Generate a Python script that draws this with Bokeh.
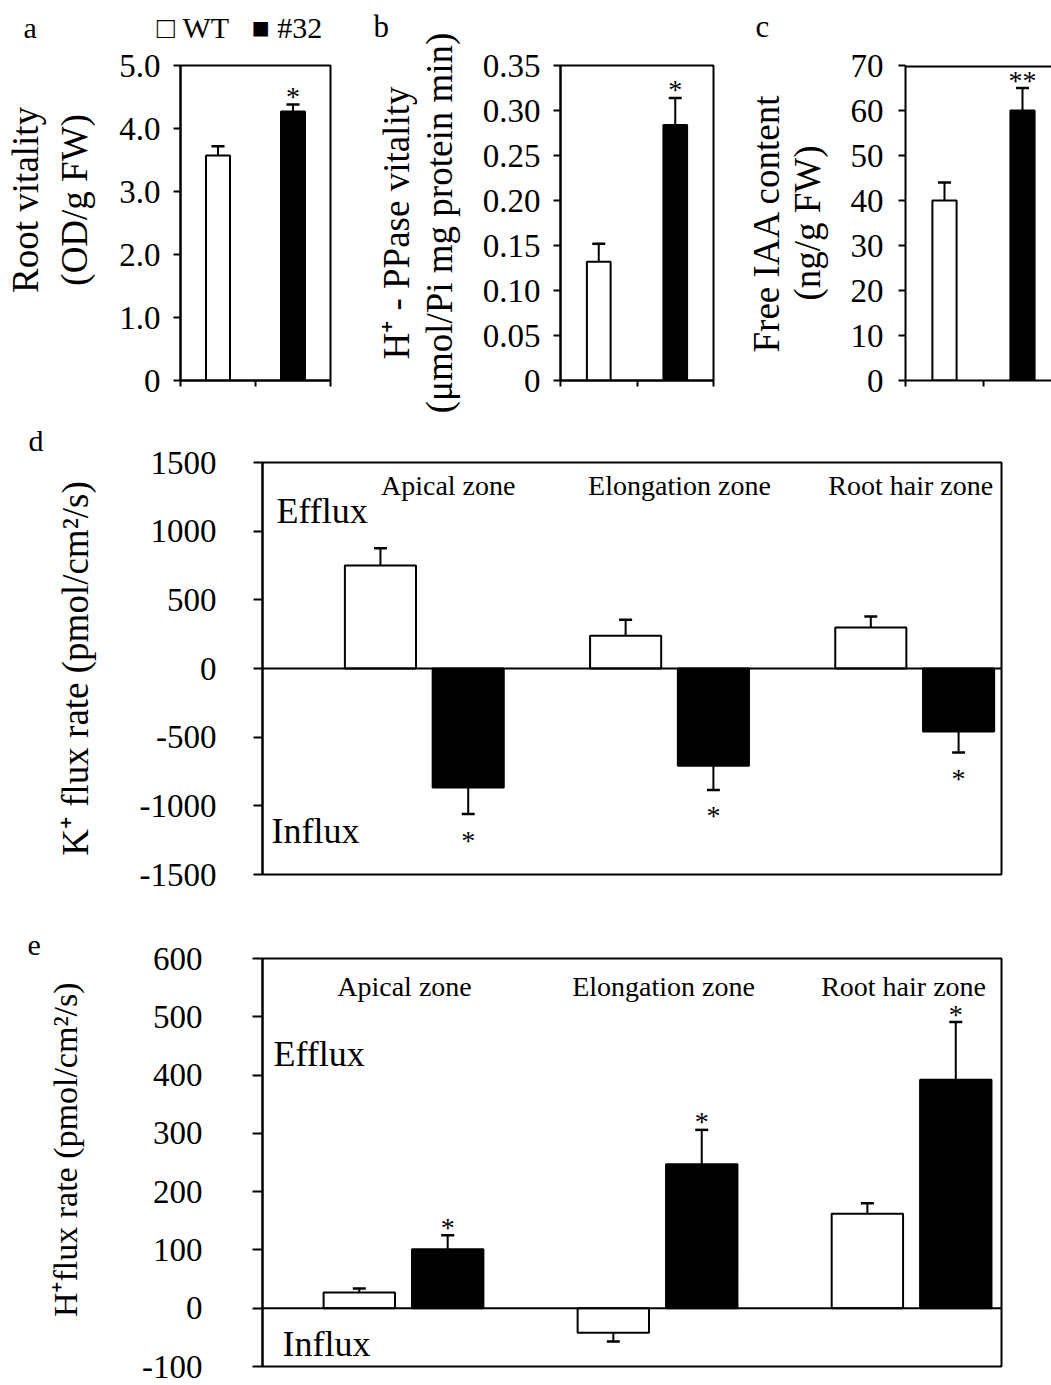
from bokeh.plotting import figure
from bokeh.models import ColumnDataSource, FixedTicker, Range1d, Span, Label, Title
from bokeh.layouts import column, row
from bokeh.embed import file_html
from bokeh.resources import INLINE
from bokeh.core.properties import value

FONT = "Liberation Serif"
NB = "\u00a0"

# ---------------- data ----------------
genotypes = ["WT", "#32"]

root_vitality = [3.57, 4.27]
root_vitality_err = [0.15, 0.11]
root_vitality_sig = ["", "*"]

ppase = [0.132, 0.284]
ppase_err = [0.020, 0.030]
ppase_sig = ["", "*"]

iaa = [40, 60]
iaa_err = [4, 5]
iaa_sig = ["", "**"]

zones = ["Apical zone", "Elongation zone", "Root hair zone"]
k_wt = [750, 238, 299]
k_wt_err = [125, 117, 80]
k_m32 = [-867, -709, -459]
k_m32_err = [193, 175, 153]
k_m32_sig = ["*", "*", "*"]

h_wt = [27, -42, 162]
h_wt_err = [7, 15, 18]
h_m32 = [101, 247, 392]
h_m32_err = [24, 59, 99]
h_m32_sig = ["*", "*", "*"]

a_ticks = [0, 1, 2, 3, 4, 5]
a_tick_labels = ["0", "1.0", "2.0", "3.0", "4.0", "5.0"]
b_ticks = [0, 0.05, 0.1, 0.15, 0.2, 0.25, 0.3, 0.35]
b_tick_labels = ["0", "0.05", "0.10", "0.15", "0.20", "0.25", "0.30", "0.35"]
c_ticks = [0, 10, 20, 30, 40, 50, 60, 70]
c_tick_labels = ["0", "10", "20", "30", "40", "50", "60", "70"]
d_ticks = [-1500, -1000, -500, 0, 500, 1000, 1500]
d_tick_labels = ["-1500", "-1000", "-500", "0", "500", "1000", "1500"]
e_ticks = [-100, 0, 100, 200, 300, 400, 500, 600]
e_tick_labels = ["-100", "0", "100", "200", "300", "400", "500", "600"]

# ---------------- helpers ----------------
TICK_FS = "33px"


class Geo:
    """page-pixel frame geometry -> data coordinate mapping"""
    def __init__(self, L, R, T, B, xr, yr):
        self.L, self.R, self.T, self.B, self.xr, self.yr = L, R, T, B, xr, yr

    def x(self, px):
        return self.xr[0] + (px - self.L) / (self.R - self.L) * (self.xr[1] - self.xr[0])

    def y(self, py):
        return self.yr[0] + (self.B - py) / (self.B - self.T) * (self.yr[1] - self.yr[0])

    def dx(self, n):
        return n / (self.R - self.L) * (self.xr[1] - self.xr[0])


def make_fig(geo, x0, y0, width, height, x_axis=True):
    left = geo.L - x0
    right = x0 + width - geo.R
    top = geo.T - y0
    bottom = y0 + height - geo.B
    p = figure(width=width, height=height,
               x_range=Range1d(*geo.xr), y_range=Range1d(*geo.yr),
               output_backend="svg", toolbar_location=None,
               min_border_left=left, min_border_right=right,
               min_border_top=top, min_border_bottom=bottom,
               x_axis_location="below" if x_axis else None)
    p.grid.visible = False
    p.outline_line_color = "black"
    p.outline_line_width = 2
    p.background_fill_color = "white"
    p.border_fill_color = "white"
    return p


def style_y(p, ticks, labels, label, tick_out, lab_standoff, axis_standoff,
            line_h=1.2, label_fs="37px"):
    ax = p.yaxis[0]
    ax.ticker = FixedTicker(ticks=ticks)
    ax.major_label_overrides = {t: l for t, l in zip(ticks, labels)}
    ax.major_label_text_font = FONT
    ax.major_label_text_font_size = TICK_FS
    ax.major_label_text_color = "black"
    ax.major_tick_out = tick_out
    ax.major_tick_in = 0
    ax.minor_tick_line_color = None
    ax.axis_line_width = 2
    ax.major_tick_line_width = 2
    ax.major_label_standoff = lab_standoff
    ax.axis_label = label
    ax.axis_label_text_font = FONT
    ax.axis_label_text_font_size = label_fs
    ax.axis_label_text_font_style = "normal"
    ax.axis_label_text_color = "black"
    ax.axis_label_text_line_height = line_h
    ax.axis_label_standoff = axis_standoff


def style_x_cat(p, n):
    ax = p.xaxis[0]
    ticks = list(range(n + 1))
    ax.ticker = FixedTicker(ticks=ticks)
    ax.major_label_overrides = {t: "" for t in ticks}
    ax.major_label_text_font_size = "1px"
    ax.major_tick_out = 6
    ax.major_tick_in = 0
    ax.minor_tick_line_color = None
    ax.axis_line_width = 2
    ax.major_tick_line_width = 2


def bars_with_err(p, geo, xs, vals, errs, fill, width, sig=None, star_fs="28px"):
    ends = [v + e if v >= 0 else v - e for v, e in zip(vals, errs)]
    half_cap = geo.dx(6.5)
    src = ColumnDataSource(dict(
        x=xs, v=vals, end=ends,
        cx0=[x - half_cap for x in xs], cx1=[x + half_cap for x in xs],
        sig=sig if sig else [""] * len(xs),
        off=[-8 if v >= 0 else 26 for v in vals],
    ))
    p.vbar(x="x", top="v", bottom=0, width=width, source=src,
           fill_color=fill, line_color="black", line_width=2)
    p.segment(x0="x", y0="v", x1="x", y1="end", source=src,
              line_color="black", line_width=2)
    p.segment(x0="cx0", y0="end", x1="cx1", y1="end", source=src,
              line_color="black", line_width=2.5)
    if sig:
        p.text(x="x", y="end", text="sig", source=src, y_offset="off",
               text_align="center", text_baseline="middle",
               text_font=value(FONT), text_font_size=star_fs, text_color="black")


def label(p, x, y, text, size, align="left"):
    p.add_layout(Label(x=x, y=y, text=text, text_font=FONT, text_font_size=size,
                       text_color="black", text_align=align,
                       text_baseline="alphabetic"))


def panel_title(p, geo, text, page_x, size, standoff, line_h=1.0):
    p.add_layout(Title(text=text, align="left", offset=page_x - geo.L,
                       text_font=FONT, text_font_size=size, text_font_style="normal",
                       text_color="black", standoff=standoff, vertical_align="bottom",
                       text_line_height=line_h),
                 "above")


def zone_labels(p, geo, centers, nudges_px, page_baseline):
    p.text(x=[c + geo.dx(n) for c, n in zip(centers, nudges_px)],
           y=[geo.y(page_baseline)] * len(centers), text=zones,
           text_align="center", text_baseline="alphabetic",
           text_font=value(FONT), text_font_size="28px", text_color="black")


ROW1_H = 413

# ---------------- panel a ----------------
ga = Geo(180, 330, 65, 380, (0, 2), (0, 5))
pa = make_fig(ga, 0, 0, 345, ROW1_H)
style_y(pa, a_ticks, a_tick_labels,
        NB * 5 + "Root vitality\n" + NB * 5 + "(OD/g FW)", 7, 13, 21, 1.2)
style_x_cat(pa, 2)
xs2 = [i + 0.5 for i in range(len(genotypes))]
bars_with_err(pa, ga, [xs2[0]], [root_vitality[0]], [root_vitality_err[0]], "white", 0.32)
bars_with_err(pa, ga, [xs2[1]], [root_vitality[1]], [root_vitality_err[1]], "black", 0.32,
              sig=[root_vitality_sig[1]])
legend_text = ("a" + NB * 16 + "\u25a1" + NB + genotypes[0] + NB * 3 +
               "\u25a0" + NB + genotypes[1])
panel_title(pa, ga, legend_text + "\n" + NB, 23, "30px", 0, 0.65)

# ---------------- panel b ----------------
gb = Geo(560, 713, 65, 380, (0, 2), (0, 0.35))
pb = make_fig(gb, 345, 0, 383, ROW1_H)
style_y(pb, b_ticks, b_tick_labels, "H\u207a - PPase vitality\n(\u03bcmol/Pi mg protein min)",
        7, 13, 20, 1.05)
style_x_cat(pb, 2)
bars_with_err(pb, gb, [xs2[0]], [ppase[0]], [ppase_err[0]], "white", 0.31)
bars_with_err(pb, gb, [xs2[1]], [ppase[1]], [ppase_err[1]], "black", 0.31, sig=[ppase_sig[1]])
panel_title(pb, gb, "b\n" + NB, 373, "31px", 0, 0.62)

# ---------------- panel c ----------------
gc = Geo(905, 1051, 65, 380, (0, 146 / 78), (0, 70))
pc = make_fig(gc, 728, 0, 323, ROW1_H)
pc.outline_line_color = None
style_y(pc, c_ticks, c_tick_labels, "Free IAA content\n(ng/g FW)", 7, 15, 20, 1.0)
style_x_cat(pc, 2)
pc.add_layout(Span(location=70, dimension="width", line_color="black", line_width=4))
bars_with_err(pc, gc, [xs2[0]], [iaa[0]], [iaa_err[0]], "white", 0.31)
bars_with_err(pc, gc, [xs2[1]], [iaa[1]], [iaa_err[1]], "black", 0.31, sig=[iaa_sig[1]])
panel_title(pc, gc, "c\n" + NB, 755, "31px", 0, 0.62)

# ---------------- panel d ----------------
gd = Geo(259, 1002, 462, 874, (-0.16, 2.854), (-1500, 1500))
pd_ = make_fig(gd, 0, ROW1_H, 1051, 502, x_axis=False)
style_y(pd_, d_ticks, d_tick_labels, "K\u207a flux rate (pmol/cm\u00b2/s)", 9, 37, 41)
pd_.add_layout(Span(location=0, dimension="width", line_color="black", line_width=2))
zx = [i + 0.5 for i in range(len(zones))]
bars_with_err(pd_, gd, [x - 0.179 for x in zx], k_wt, k_wt_err, "white", 0.29)
bars_with_err(pd_, gd, [x + 0.179 for x in zx], k_m32, k_m32_err, "black", 0.29, sig=k_m32_sig)
zone_labels(pd_, gd, zx, [24, 10, -4], 485)
label(pd_, gd.x(273), gd.y(510), "Efflux", "36px")
label(pd_, gd.x(268), gd.y(830), "Influx", "36px")
panel_title(pd_, gd, "d", 25, "30px", 12)

# ---------------- panel e ----------------
ge = Geo(262, 1001, 958, 1366, (-0.055, 2.854), (-100, 600))
pe = make_fig(ge, 0, ROW1_H + 502, 1051, 470, x_axis=False)
style_y(pe, e_ticks, e_tick_labels, NB * 3 + "H\u207aflux rate (pmol/cm\u00b2/s)",
        10, 50, 55, label_fs="34px")
pe.add_layout(Span(location=0, dimension="width", line_color="black", line_width=2))
bars_with_err(pe, ge, [x - 0.174 for x in zx], h_wt, h_wt_err, "white", 0.281)
bars_with_err(pe, ge, [x + 0.174 for x in zx], h_m32, h_m32_err, "black", 0.281, sig=h_m32_sig)
zone_labels(pe, ge, zx, [1, 6, -8], 986)
label(pe, ge.x(273), ge.y(1053), "Efflux", "36px")
label(pe, ge.x(282), ge.y(1343), "Influx", "36px")
panel_title(pe, ge, "e", 27, "30px", 7)

layout = column(row(pa, pb, pc), pd_, pe)
open("out.html", "w").write(file_html(layout, INLINE))
